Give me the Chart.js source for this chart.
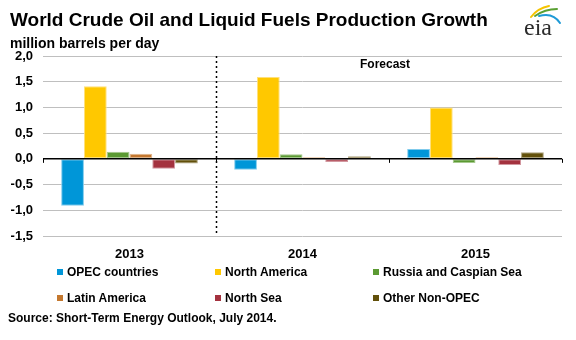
<!DOCTYPE html>
<html>
<head>
<meta charset="utf-8">
<script src="https://cdn.jsdelivr.net/npm/chart.js@4/dist/chart.umd.min.js"></script>
<style>
  html, body { margin:0; padding:0; background:#fff; }
  #wrap { position:relative; width:576px; height:340px; overflow:hidden; font-family:"Liberation Sans", Arial, sans-serif; font-weight:bold; color:#000; }
  #c { position:absolute; left:0; top:0; }
  .txt { position:absolute; white-space:nowrap; line-height:1; }
  #title { left:10px; top:10px; font-size:19px; letter-spacing:0px; }
  #sub { left:10px; top:36px; font-size:14px; }
  #forecast { left:360px; top:58px; font-size:12px; }
  #source { left:8px; top:312px; font-size:12px; }
  .leg { position:absolute; font-size:12px; line-height:1; white-space:nowrap; }
  .leg i { position:absolute; left:0; top:3px; width:6px; height:6px; }
  .leg span { position:absolute; left:10px; top:0; }
</style>
</head>
<body>
<div id="wrap">
  <canvas id="c" width="576" height="340"></canvas>
  <div class="txt" id="title">World Crude Oil and Liquid Fuels Production Growth</div>
  <div class="txt" id="sub">million barrels per day</div>
  <div class="txt" id="forecast">Forecast</div>
  <div class="txt" id="source">Source: Short-Term Energy Outlook, July 2014.</div>
  <div id="legend"></div>
</div>
<script>
const categories = ['2013', '2014', '2015'];
const opec = [-0.91, -0.21, 0.19];
const northAmerica = [1.41, 1.59, 1.00];
const russiaCaspian = [0.14, 0.09, -0.08];
const latinAmerica = [0.10, 0.03, 0.03];
const northSea = [-0.19, -0.06, -0.12];
const otherNonOpec = [-0.09, 0.05, 0.13];
const seriesNames = ['OPEC countries', 'North America', 'Russia and Caspian Sea', 'Latin America', 'North Sea', 'Other Non-OPEC'];
const seriesValues = [opec, northAmerica, russiaCaspian, latinAmerica, northSea, otherNonOpec];
const seriesColors = ['#0096d8', '#ffc800', '#5b9a32', '#c4782f', '#a4323f', '#62500a'];
const seriesBorders = ['#80cbec', '#ffe07a', '#a6c98e', '#e2b88f', '#d2979f', '#ada27e'];
const yTicks = [-1.5, -1.0, -0.5, 0, 0.5, 1.0, 1.5, 2.0];

const datasets = seriesNames.map((n, i) => ({
  label: n,
  data: seriesValues[i],
  backgroundColor: seriesColors[i],
  borderColor: seriesBorders[i],
  borderWidth: 1,
  borderSkipped: false,
  barPercentage: 1.0,
  categoryPercentage: 0.79
}));

const overlay = {
  id: 'overlay',
  afterDatasetsDraw(chart) {
    const ctx = chart.ctx, x = chart.scales.x, y = chart.scales.y, a = chart.chartArea;
    const y0 = y.getPixelForValue(0);
    ctx.save();
    ctx.strokeStyle = '#000';
    ctx.lineWidth = 1.5;
    ctx.beginPath(); ctx.moveTo(a.left, y0); ctx.lineTo(a.right, y0); ctx.stroke();
    ctx.lineWidth = 1;
    for (let i = 0; i <= categories.length; i++) {
      const px = Math.round(x.getPixelForValue(i - 0.5)) + 0.5;
      ctx.beginPath(); ctx.moveTo(px, y0); ctx.lineTo(px, y0 + 4); ctx.stroke();
    }
    const dx = Math.round(x.getPixelForValue(0.5)) + 0.5;
    ctx.setLineDash([2, 3]);
    ctx.lineWidth = 1.5;
    ctx.beginPath(); ctx.moveTo(dx, a.top); ctx.lineTo(dx, a.bottom); ctx.stroke();
    ctx.restore();
  },
  afterDraw(chart) {
    const ctx = chart.ctx;
    ctx.save();
    ctx.lineCap = 'round';
    ctx.lineWidth = 2;
    ctx.strokeStyle = '#f5c400';
    ctx.beginPath(); ctx.moveTo(531, 17); ctx.quadraticCurveTo(538, 8, 549, 6); ctx.stroke();
    ctx.strokeStyle = '#5aa033';
    ctx.beginPath(); ctx.moveTo(535, 16); ctx.quadraticCurveTo(545, 9, 557, 9); ctx.stroke();
    ctx.strokeStyle = '#1e9ad6';
    ctx.beginPath(); ctx.moveTo(539, 16); ctx.quadraticCurveTo(553, 12, 560, 23); ctx.stroke();
    ctx.fillStyle = '#2b2b2b';
    ctx.font = '24px "Liberation Serif", "DejaVu Serif", serif';
    ctx.textBaseline = 'alphabetic';
    ctx.fillText('eia', 524, 35);
    ctx.restore();
  }
};

new Chart(document.getElementById('c'), {
  type: 'bar',
  data: { labels: categories, datasets },
  options: {
    responsive: false,
    animation: false,
    devicePixelRatio: 1,
    layout: { padding: { left: 0, top: 56, right: 14, bottom: 80 } },
    plugins: { legend: { display: false }, tooltip: { enabled: false }, title: { display: false } },
    scales: {
      x: {
        grid: { display: false, drawTicks: false },
        border: { display: false },
        ticks: { color: '#000', font: { family: '"Liberation Sans", Arial, sans-serif', size: 13, weight: 'bold' }, padding: 11 },
        afterFit(s) { s.height = 24; }
      },
      y: {
        min: -1.5, max: 2.0,
        afterBuildTicks(s) { s.ticks = yTicks.map(v => ({ value: v })); },
        grid: { color: '#bfbfbf', lineWidth: 1, drawTicks: false },
        border: { display: false },
        ticks: {
          color: '#000', padding: 10,
          font: { family: '"Liberation Sans", Arial, sans-serif', size: 13, weight: 'bold' },
          callback: v => v.toFixed(1).replace('.', ',')
        },
        afterFit(s) { s.width = 43; }
      }
    }
  },
  plugins: [overlay]
});

const legend = document.getElementById('legend');
const colX = [57, 215, 373], rowY = [266, 292];
seriesNames.forEach((n, i) => {
  const d = document.createElement('div');
  d.className = 'leg';
  d.style.left = colX[i % 3] + 'px';
  d.style.top = rowY[Math.floor(i / 3)] + 'px';
  d.innerHTML = '<i style="background:' + seriesColors[i] + '"></i><span>' + n + '</span>';
  legend.appendChild(d);
});
</script>
</body>
</html>
